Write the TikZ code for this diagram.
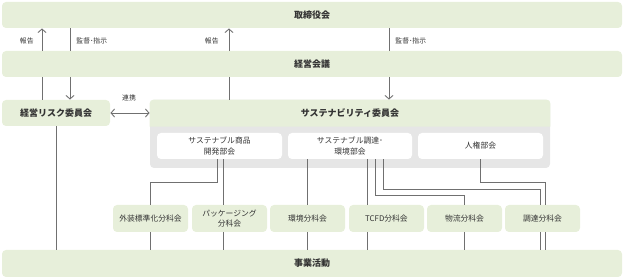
\documentclass[tikz,border=0pt]{standalone}
\usepackage{fontspec}
\setmainfont{Noto Sans CJK JP}
\usetikzlibrary{arrows.meta, positioning}
\definecolor{cgreen}{HTML}{E7EFDA}
\definecolor{cpanel}{HTML}{E6E6E6}
\definecolor{cline}{HTML}{707070}
\definecolor{ctext}{HTML}{333333}
\tikzset{
  every picture/.style={x=1pt, y=-1pt, line width=0.9pt, text=ctext},
  bar/.style={fill=cgreen, rounded corners=4pt, minimum width=620pt, minimum height=26pt, inner sep=0pt, font=\fontsize{9}{10}\selectfont\bfseries},
  head/.style={fill=cgreen, rounded corners=4pt, minimum height=26pt, inner sep=0pt, font=\fontsize{9}{10}\selectfont\bfseries},
  dept/.style={fill=white, rounded corners=4pt, minimum width=125pt, minimum height=26pt, inner sep=0pt, align=center, font=\fontsize{7.8}{10.5}\selectfont},
  sub/.style={fill=cgreen, rounded corners=4pt, minimum width=75pt, minimum height=27pt, inner sep=0pt, align=center, font=\fontsize{7.8}{10.5}\selectfont},
  link/.style={draw=cline, line width=0.9pt},
  arrow/.style={link, -{Straight Barb[length=3.5pt, width=8pt]}},
  note/.style={font=\fontsize{6.8}{8}\selectfont, inner sep=0pt},
}

\begin{document}
\begin{tikzpicture}
  \useasboundingbox (0,0) rectangle (624,280);
  % top bars
  \node[bar] (board) at (312,15) {取締役会};
  \node[bar] (mgmt) at (312,64) {経営会議};
  % committees
  \node[head, minimum width=108pt] (risk) at (56,113) {経営リスク委員会};
  \node[fill=cpanel, rounded corners=4pt, minimum width=400pt, minimum height=68pt, inner sep=0pt] (susbg) at (350,134) {};
  \fill[cgreen, rounded corners=4pt] ([yshift=-27pt]susbg.north west) -- (susbg.north west) -- (susbg.north east) -- ([yshift=-27pt]susbg.north east);
  \node[font=\fontsize{9}{10}\selectfont\bfseries, minimum width=400pt, minimum height=27pt, inner sep=0pt] (sus) at (350,113.5) {サステナビリティ委員会};
  % bukai
  \node[dept] (prod) at (219.5,146) {サステナブル商品\\開発部会};
  \node[dept, minimum width=124pt] (proc) at (350,146) {サステナブル調達･\\環境部会};
  \node[dept] (hr) at (480.5,146) {人権部会};
  % bunkakai
  \node[sub] (pkgstd) at (150.5,218.5) {外装標準化分科会};
  \node[sub] (pkg) at (229.5,218.5) {パッケージング\\分科会};
  \node[sub] (env) at (307.5,218.5) {環境分科会};
  \node[sub] (tcfd) at (386.5,218.5) {TCFD分科会};
  \node[sub] (logi) at (464.5,218.5) {物流分科会};
  \node[sub] (buy) at (542.5,218.5) {調達分科会};
  \node[bar, minimum height=27pt] (biz) at (312,263.5) {事業活動};

  % reporting / supervision
  \coordinate (rep1) at (42,0);
  \coordinate (dir1) at (70,0);
  \coordinate (rep2) at (229,0);
  \coordinate (dir2) at (389,0);
  \draw[link] (rep1 |- risk.north) -- (rep1 |- mgmt.south);
  \draw[arrow] (rep1 |- mgmt.north) -- (rep1 |- board.south);
  \draw[link] (dir1 |- board.south) -- (dir1 |- mgmt.north);
  \draw[arrow] (dir1 |- mgmt.south) -- (dir1 |- risk.north);
  \draw[link] (rep2 |- sus.north) -- (rep2 |- mgmt.south);
  \draw[arrow] (rep2 |- mgmt.north) -- (rep2 |- board.south);
  \draw[link] (dir2 |- board.south) -- (dir2 |- mgmt.north);
  \draw[arrow] (dir2 |- mgmt.south) -- (dir2 |- sus.north);
  \node[note, anchor=east] (l1) at (34,40.5) {報告};
  \node[note, anchor=west] (l2) at (76,40.5) {監督･指示};
  \node[note, anchor=east] (l3) at (219,40.5) {報告};
  \node[note, anchor=west] (l4) at (395,40.5) {監督･指示};
  \draw[link, {Straight Barb[length=3.5pt, width=8pt]}-{Straight Barb[length=3.5pt, width=8pt]}] (risk.east) -- (risk.east -| sus.west);
  \node[note] (l5) at (129,98) {連携};

  % to business activities
  \draw[link] (risk.south) -- (risk.south |- biz.north);
  \draw[link] ([xshift=-2.5pt]prod.south) -- ++(0,23) -| (pkgstd.north);
  \draw[link] (pkgstd.south) -- (pkgstd.south |- biz.north);
  \coordinate (p2) at ([xshift=3.5pt]prod.south);
  \draw[link] (p2) -- (p2 |- pkg.north);
  \draw[link] (p2 |- pkg.south) -- (p2 |- biz.north);
  \draw[link] (env |- proc.south) -- (env.north);
  \draw[link] (env.south) -- (env |- biz.north);
  \coordinate (p3) at ([xshift=17pt]proc.south);
  \draw[link] (p3) -- (p3 |- tcfd.north);
  \draw[link] (p3 |- tcfd.south) -- (p3 |- biz.north);
  \draw[link] ([xshift=25pt]proc.south) -- ++(0,36) -| (logi.north);
  \draw[link] (logi.south) -- (logi |- biz.north);
  \coordinate (b1) at ([xshift=-2.5pt]buy.north);
  \coordinate (b2) at ([xshift=2.5pt]buy.north);
  \draw[link] ([xshift=33pt]proc.south) -- ++(0,30) -| (b1);
  \draw[link] (hr.south) -- ++(0,23) -| (b2);
  \draw[link] (b1 |- buy.south) -- (b1 |- biz.north);
  \draw[link] (b2 |- buy.south) -- (b2 |- biz.north);
\end{tikzpicture}
\end{document}
